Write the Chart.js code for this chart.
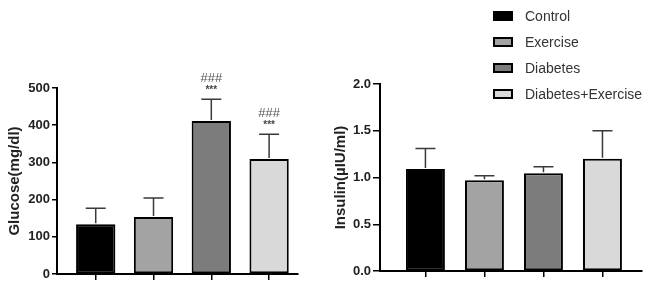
<!DOCTYPE html>
<html>
<head>
<meta charset="utf-8">
<script src="https://cdn.jsdelivr.net/npm/chart.js@4"></script>
<style>
  body { margin: 0; background: #fff; width: 661px; height: 286px; overflow: hidden; font-family: "Liberation Sans", Arial, sans-serif; }
  canvas { position: absolute; top: 0; }
  #legend { position: absolute; left: 493px; top: 3px; }
  .item { height: 26px; display: flex; align-items: center; font-size: 14px; color: #333; }
  .swatch { width: 16px; height: 6px; border: 2px solid #000; margin-right: 12px; }
</style>
</head>
<body>
<canvas id="glucoseChart" width="315" height="286" style="left:0"></canvas>
<canvas id="insulinChart" width="341" height="286" style="left:320px"></canvas>
<div id="legend"></div>
<script>
// groups
var groups = ['Control', 'Exercise', 'Diabetes', 'Diabetes+Exercise'];
var groupColors = ['#000000', '#a3a3a3', '#7c7c7c', '#d9d9d9'];

// glucose (mg/dl), mean and upper error
var glucose = [134, 153, 411, 309];
var glucoseErr = [43, 51, 59, 67];
var glucoseTicks = [0, 100, 200, 300, 400, 500];
var starMarks = ['', '', '***', '***'];
var hashMarks = ['', '', '###', '###'];

// insulin (µIU/ml)
var insulin = [1.09, 0.97, 1.045, 1.20];
var insulinErr = [0.22, 0.05, 0.07, 0.30];
var insulinTicks = [0, 0.5, 1.0, 1.5, 2.0];

Chart.defaults.font.family = '"Liberation Sans", Arial, sans-serif';
Chart.defaults.color = '#222';

// legend
var legend = document.getElementById('legend');
groups.forEach(function (g, i) {
    var row = document.createElement('div');
    row.className = 'item';
    var sw = document.createElement('span');
    sw.className = 'swatch';
    sw.style.background = groupColors[i];
    row.appendChild(sw);
    row.appendChild(document.createTextNode(g));
    legend.appendChild(row);
});

// draws the upward error bars and the significance marks
var errorBars = {
    id: 'errorBars',
    afterDatasetsDraw: function (chart, args, opts) {
        var ctx = chart.ctx;
        var y = chart.scales.y;
        var meta = chart.getDatasetMeta(0);
        var vals = chart.data.datasets[0].data;
        ctx.save();
        ctx.strokeStyle = '#3a3a3a';
        ctx.lineWidth = 1.5;
        meta.data.forEach(function (bar, i) {
            var v = vals[i].y;
            var top = y.getPixelForValue(v + opts.err[i]);
            ctx.beginPath();
            ctx.moveTo(bar.x, y.getPixelForValue(v) - 1);
            ctx.lineTo(bar.x, top);
            ctx.moveTo(bar.x - 10, top);
            ctx.lineTo(bar.x + 10, top);
            ctx.stroke();
            if (opts.stars) {
                ctx.textAlign = 'center';
                ctx.textBaseline = 'middle';
                ctx.font = 'bold 10px "Liberation Sans", Arial';
                ctx.fillStyle = '#444';
                ctx.fillText(opts.stars[i], bar.x, top - 9);
                ctx.font = '13px "Liberation Sans", Arial';
                ctx.fillStyle = '#555';
                ctx.fillText(opts.hashes[i], bar.x, top - 21);
            }
        });
        ctx.restore();
    }
};

function makeChart(canvas, values, err, ticks, title, cfg) {
    return new Chart(canvas, {
        type: 'bar',
        data: {
            labels: groups,
            datasets: [{
                data: values.map(function (v, i) { return { x: i, y: v }; }),
                backgroundColor: groupColors,
                borderColor: '#000',
                borderWidth: 2,
                borderSkipped: false,
                barPercentage: cfg.barPct,
                categoryPercentage: 1
            }]
        },
        options: {
            responsive: false,
            animation: false,
            layout: { padding: { left: 0, right: cfg.right, top: cfg.top, bottom: 0 } },
            plugins: {
                legend: { display: false },
                tooltip: { enabled: false },
                errorBars: { err: err, stars: cfg.stars, hashes: cfg.hashes }
            },
            scales: {
                x: {
                    type: 'linear',
                    offset: false,
                    min: cfg.xmin,
                    max: cfg.xmax,
                    afterBuildTicks: function (s) {
                        s.ticks = groups.map(function (g, i) { return { value: i }; });
                    },
                    afterFit: function (s) { s.height = cfg.bottom; },
                    ticks: { display: false },
                    grid: { offset: false, drawOnChartArea: false, tickLength: 6, tickColor: '#000', lineWidth: 1.5 },
                    border: { color: '#000', width: 2 }
                },
                y: {
                    min: ticks[0],
                    max: ticks[ticks.length - 1],
                    afterBuildTicks: function (s) {
                        s.ticks = ticks.map(function (t) { return { value: t }; });
                    },
                    afterFit: function (s) { s.width = cfg.left; },
                    ticks: {
                        padding: 2,
                        color: '#222',
                        font: { size: 13, weight: 'bold' },
                        callback: function (v) { return cfg.decimals ? v.toFixed(1) : v; }
                    },
                    grid: { drawOnChartArea: false, tickLength: cfg.tickLen, tickColor: '#000', lineWidth: 1.5 },
                    border: { color: '#000', width: 2 },
                    title: {
                        display: true,
                        text: title,
                        color: '#222',
                        font: { size: 15, weight: 'bold' },
                        padding: { top: cfg.titlePad, bottom: 0 }
                    }
                }
            }
        },
        plugins: [errorBars]
    });
}

makeChart(document.getElementById('glucoseChart'), glucose, glucoseErr, glucoseTicks, 'Glucose(mg/dl)', {
    left: 57, right: 17, top: 88, bottom: 12, xmin: -0.67, xmax: 3.5, barPct: 0.68,
    tickLen: 5, titlePad: 6, stars: starMarks, hashes: hashMarks
});

makeChart(document.getElementById('insulinChart'), insulin, insulinErr, insulinTicks, 'Insulin(µIU/ml)', {
    left: 60, right: 19, top: 84, bottom: 15, xmin: -0.77, xmax: 3.67, barPct: 0.66,
    tickLen: 7, titlePad: 12, decimals: true
});
</script>
</body>
</html>
